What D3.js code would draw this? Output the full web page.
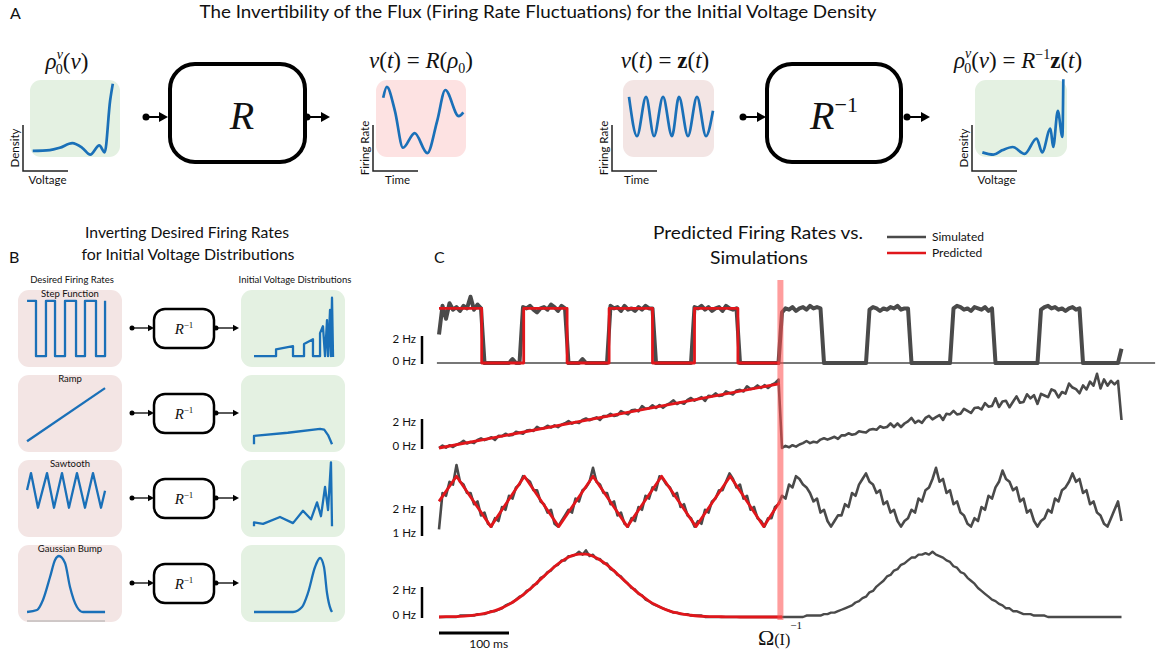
<!DOCTYPE html>
<html>
<head>
<meta charset="utf-8">
<script src="https://cdn.jsdelivr.net/npm/d3@7"></script>
<style>
  body { margin: 0; background: #fff; }
  text { font-family: Lato, "Open Sans", sans-serif; fill: #111; }
</style>
</head>
<body>
<div id="chart"></div>
<script>
(function () {

  // ---------- panel A sketches: [fraction of window, relative height] ----------
  var rhoStart = [[0.03,0.08],[0.22,0.09],[0.33,0.12],[0.47,0.18],[0.58,0.12],[0.67,0.03],[0.77,0.15],[0.83,0.06],[0.89,0.73],[0.92,0.95]]
  var rateOut = [[0.08,0.77],[0.12,0.91],[0.21,0.6],[0.3,0.12],[0.43,0.31],[0.57,0.05],[0.68,0.47],[0.77,0.87],[0.92,0.53],[0.97,0.58]]
  var rateTarget = [[0.066,0.78],[0.154,0.27],[0.253,0.78],[0.341,0.27],[0.44,0.78],[0.538,0.27],[0.615,0.78],[0.714,0.27],[0.813,0.78],[0.912,0.27],[0.989,0.6]]
  var rhoSolved = [[0.08,0.06],[0.2,0.03],[0.3,0.09],[0.41,0.13],[0.54,0.04],[0.67,0.24],[0.73,0.06],[0.82,0.37],[0.85,0.13],[0.9,0.6],[0.95,0.26],[0.96,1.01]]

  // ---------- panel B sketches ----------
  var bNames = ['Step Function', 'Ramp', 'Sawtooth', 'Gaussian Bump']
  var stepWave = [[0.087,0.86],[0.173,0.14],[0.269,0.86],[0.356,0.14],[0.452,0.86],[0.558,0.14],[0.644,0.86],[0.75,0.14],[0.837,0.86]]
  var stepSolved = [[0.125,0.14],[0.337,0.14],[0.337,0.23],[0.5,0.27],[0.5,0.14],[0.606,0.14],[0.606,0.3],[0.692,0.36],[0.692,0.14],[0.76,0.14],[0.76,0.44],[0.788,0.53],[0.808,0.14],[0.827,0.61],[0.837,0.14],[0.856,0.74],[0.865,0.14],[0.875,0.9],[0.885,0.13]]
  var rampWave = [[0.087,0.14],[0.837,0.83]]
  var rampSolved = [[0.125,0.10],[0.125,0.21],[0.45,0.25],[0.76,0.30],[0.8,0.29],[0.837,0.22],[0.86,0.15],[0.875,0.10]]
  var sawWave = [[0.087,0.61],[0.125,0.83],[0.192,0.38],[0.279,0.83],[0.346,0.38],[0.423,0.83],[0.49,0.38],[0.567,0.83],[0.644,0.38],[0.721,0.83],[0.798,0.38],[0.837,0.6]]
  var sawSolved = [[0.125,0.14],[0.125,0.19],[0.212,0.17],[0.375,0.26],[0.5,0.18],[0.596,0.34],[0.673,0.23],[0.731,0.45],[0.769,0.27],[0.808,0.65],[0.837,0.35],[0.865,0.97],[0.875,0.14]]
  var gaussWave = [[0.087,0.13],[0.183,0.156],[0.24,0.286],[0.308,0.584],[0.356,0.805],[0.394,0.857],[0.452,0.766],[0.5,0.455],[0.567,0.195],[0.625,0.13],[0.837,0.13]]
  var gaussSolved = [[0.125,0.13],[0.5,0.13],[0.587,0.195],[0.644,0.377],[0.712,0.714],[0.76,0.831],[0.798,0.714],[0.827,0.377],[0.865,0.156],[0.875,0.13]]

  // ---------- panel C: firing rates in Hz ----------
  var simDt = 5      // ms between simulated samples
  var simStep = [2.2,4.4,3.4,4.6,4.1,4.3,4.0,4.4,4.2,5.1,4.1,4.5,4.2,
    0,0,0,0,0,0,0,0,0.3,0,0,
    4.3,4.2,4.4,4.1,3.9,4.2,4.3,4.1,4.5,4.3,4.0,4.4,4.2,
    0,0,0,0,0.3,0,0,0,0,0,0,0,
    4.4,4.2,4.3,4.0,4.4,4.1,4.2,4.0,4.3,4.1,4.4,4.2,4.2,
    0,0,0,0,0,0,0,0,0,0,0,
    4.3,4.2,4.4,4.1,4.3,4.0,4.2,4.3,4.0,4.4,4.2,4.1,4.2,
    0,0,0,0,0,0,0,0,0,0,0,0,
    3.9,4.2,4.1,4.3,4.0,4.2,4.3,4.1,4.4,4.2,4.3,4.2,
    0,0,0,0,0,0,0,0,0,0,0,0,0,
    4.1,4.3,4.2,4.0,4.2,4.1,4.3,4.2,4.4,4.1,4.2,4.2,
    0,0,0,0,0,0,0,0,0,0,0,0,
    4.2,4.4,4.3,4.1,4.2,4.0,4.3,4.2,4.1,4.3,4.0,4.2,
    0,0,0,0,0,0,0,0,0,0,0,0,0,
    4.1,4.3,4.4,4.2,4.3,4.1,4.2,4.0,4.2,4.3,4.1,4.2,
    0,0,0,0,0,0,0,0,0,0,0,
    1.1]
  var simRamp = [0.00,0.17,0.03,0.20,0.07,0.24,0.34,0.51,0.32,0.43,
    0.35,0.58,0.69,0.56,0.66,0.77,0.58,0.87,0.85,1.02,
    0.89,0.93,1.16,1.09,1.02,1.24,1.29,1.22,1.51,1.37,
    1.42,1.59,1.46,1.62,1.49,1.66,1.77,1.93,1.74,1.85,
    1.78,2.00,2.11,1.98,2.09,2.19,2.00,2.29,2.28,2.44,
    2.29,2.34,2.63,2.51,2.40,2.69,2.73,2.62,2.99,2.80,
    2.84,3.05,2.86,3.07,2.87,3.08,3.21,3.41,3.14,3.27,
    3.16,3.44,3.57,3.38,3.51,3.63,3.36,3.73,3.70,3.90,
    3.71,3.76,4.04,3.93,3.82,4.11,4.15,4.04,4.41,4.22,
    4.26,4.47,4.28,4.49,4.29,4.50,4.63,4.89,
    0.00,0.15,0.05,0.20,0.10,0.25,0.35,0.50,0.35,0.45,
    0.40,0.60,0.70,0.60,0.70,0.80,0.65,0.90,0.90,1.05,
    0.95,1.00,1.20,1.15,1.10,1.30,1.35,1.30,1.55,1.45,
    1.50,1.75,1.50,1.75,1.50,1.75,1.90,2.15,1.80,1.95,
    1.80,2.15,2.30,2.05,2.20,2.35,2.00,2.45,2.40,2.65,
    2.40,2.45,2.80,2.65,2.50,2.85,2.90,2.75,3.20,2.95,
    3.00,3.55,2.93,3.32,3.37,2.91,3.30,3.69,3.23,3.28,
    3.84,3.55,3.77,3.15,3.87,3.75,3.63,4.19,4.07,3.61,
    4.00,3.88,4.60,4.32,4.20,3.91,4.47,4.18,4.74,4.45,
    5.30,4.25,4.90,4.45,4.80,4.55,4.80,2.00]
  var simSaw = [1.2,2.5,2.4,2.9,2.8,3.5,2.9,2.8,2.5,2.5,
    2.1,2.2,1.7,1.8,1.4,1.3,1.6,1.5,2.0,1.9,
    2.4,2.3,2.7,2.8,3.1,3.0,2.9,2.6,2.6,2.2,
    2.1,1.8,1.9,1.4,1.3,1.5,1.7,1.9,1.8,2.3,
    2.2,2.6,2.7,2.9,3.4,2.9,2.8,2.5,2.5,2.1,
    2.2,1.7,1.8,1.4,1.3,1.6,1.5,2.0,1.9,2.4,
    2.3,2.7,2.6,3.1,3.0,2.8,2.7,2.4,2.5,2.0,
    2.1,1.7,1.6,1.3,1.5,1.4,1.9,1.8,2.2,2.3,
    2.6,2.6,2.9,3.2,3.0,2.7,2.8,2.3,2.4,1.9,
    2.0,1.6,1.5,1.3,1.6,1.6,2.0,2.1,2.4,2.3,
    2.8,2.7,3.1,3.0,2.8,2.7,2.5,2.2,2.3,1.8,
    1.9,1.5,1.3,1.5,1.7,1.7,2.1,2.0,2.5,2.4,
    2.8,3.0,3.2,2.9,2.8,2.5,2.6,2.1,2.2,1.8,
    1.9,1.5,1.3,1.5,1.6,1.9,1.8,2.3,2.2,2.6,
    2.7,3.0,3.4,2.9,3.0,2.5,2.6,2.1,2.2,1.8,
    1.7,1.4,1.3,1.6,1.5,2.0,1.9,2.4,2.3,2.7,
    2.9,3.3,3.0,2.9,2.6,2.7,2.2,2.3,1.8,1.9,
    1.5,1.3,1.5,1.6,1.9,1.8,2.3,2.2,2.6,2.7,
    2.9,3.2,2.9,3.0,2.5,2.6,2.1,2.2,1.8,1.7,
    1.4,1.3,1.6,1.9,2.2,1.5]
  var simBump = [0.0,0.0,0.0,0.0,0.0,0.0,0.1,0.1,0.1,0.1,
    0.1,0.2,0.2,0.2,0.3,0.4,0.4,0.5,0.6,0.8,
    0.9,1.0,1.2,1.4,1.5,1.8,1.9,2.2,2.3,2.7,
    2.8,3.1,3.2,3.5,3.6,3.9,3.9,4.2,4.2,4.3,
    4.5,4.3,4.6,4.2,4.3,4.0,4.0,3.7,3.7,3.3,
    3.2,2.9,2.8,2.5,2.3,2.0,1.9,1.6,1.5,1.2,
    1.1,0.9,0.8,0.7,0.6,0.5,0.4,0.3,0.3,0.2,
    0.2,0.2,0.1,0.1,0.1,0.1,0.0,0.0,0.0,0.0,
    0,0,0,0,0,0,0,0,0,0,0,0,0,0,0,0,0,0,
    0.0,0.0,0.0,0.0,0.0,0.0,0.0,0.1,0.1,0.1,
    0.1,0.1,0.2,0.2,0.3,0.3,0.4,0.5,0.6,0.7,
    0.8,1.0,1.1,1.3,1.4,1.7,1.8,2.1,2.3,2.5,
    2.8,2.9,3.2,3.3,3.6,3.7,3.9,4.1,4.1,4.3,
    4.3,4.4,4.3,4.5,4.3,4.2,4.1,3.9,3.8,3.5,
    3.4,3.1,3.0,2.7,2.5,2.3,2.0,1.8,1.6,1.4,
    1.2,1.1,0.9,0.8,0.6,0.6,0.4,0.4,0.3,0.2,
    0.2,0.2,0.1,0.1,0.1,0.1,0.0,0.0,0.0,0.0,
    0,0,0,0,0,0,0,0,0,0,0,0,0,0,0,0,0,0]

  var predStepTimes = [0, 61, 121, 183, 243, 305, 365, 427, 487]
  var predStepRates = [4.2, 0, 4.2, 0, 4.2, 0, 4.2, 0, 0]
  var predRamp = [[0, 0], [487, 4.6]]
  var predSaw = [[0,2.2],[25,3.1],[74,1.3],[122,3.1],[171,1.3],[220,3.1],[269,1.3],[318,3.1],[367,1.3],[416,3.1],[464,1.3],[487,2.2]]
  var bumpDt = 10
  var predBump = [0.00,0.02,0.03,0.05,0.08,0.13,0.20,0.30,0.44,0.63,
    0.87,1.17,1.52,1.93,2.37,2.82,3.26,3.66,3.99,4.23,
    4.34,4.33,4.19,3.93,3.59,3.18,2.73,2.28,1.84,1.45,
    1.10,0.82,0.59,0.41,0.28,0.18,0.12,0.07,0.04,0.03,
    0.02,0.01,0.01,0.00,0.00,0.00,0.00,0.00,0.00,0.00]
  var omegaInv = 487   // ms
  var scaleMs = 100

  var blue = '#1a70b8', gray = '#4a4a4a', red = '#e0161b'
  var pinkA = '#fde2e2', pinkB = '#f3e5e4', green = '#e4f1e2'
  var serif = '"Liberation Serif", "DejaVu Serif", serif'

  var svg = d3.select('#chart').append('svg')
    .attr('width', 1174)
    .attr('height', 657)

  function mathLabel(x, y, size, parts, anchor) {
    var t = svg.append('text')
      .attr('x', x).attr('y', y)
      .attr('font-size', size)
      .attr('text-anchor', anchor || 'middle')
      .style('font-family', serif)
    parts.forEach(function (p) {
      var s = t.append('tspan').text(p.t)
      if (p.i) s.attr('font-style', 'italic')
      if (p.b) s.attr('font-weight', 'bold')
      if (p.dy) s.attr('dy', p.dy)
      if (p.dx) s.attr('dx', p.dx)
      if (p.s) s.attr('font-size', p.s)
    })
    return t
  }

  function label(x, y, txt, size, anchor, len) {
    var t = svg.append('text')
      .attr('x', x).attr('y', y)
      .attr('font-size', size)
      .attr('text-anchor', anchor || 'middle')
      .text(txt)
    if (len) t.attr('textLength', len).attr('lengthAdjust', 'spacingAndGlyphs')
    return t
  }

  function sketch(x0, y0, w, h, fill, pts, curve, sw) {
    svg.append('rect')
      .attr('x', x0).attr('y', y0)
      .attr('width', w).attr('height', h)
      .attr('rx', 11)
      .attr('fill', fill)
    var xs = d3.scaleLinear().domain([0, 1]).range([x0, x0 + w])
    var ys = d3.scaleLinear().domain([0, 1]).range([y0 + h, y0])
    svg.append('path')
      .datum(pts)
      .attr('d', d3.line().x(function (d) { return xs(d[0]) }).y(function (d) { return ys(d[1]) }).curve(curve))
      .attr('fill', 'none')
      .attr('stroke', blue)
      .attr('stroke-width', sw)
      .attr('stroke-linejoin', 'round')
  }

  function arrow(x1, x2, y, r, sw, head) {
    svg.append('line')
      .attr('x1', x1).attr('x2', x2 - head)
      .attr('y1', y).attr('y2', y)
      .attr('stroke', '#000').attr('stroke-width', sw)
    svg.append('circle').attr('cx', x1).attr('cy', y).attr('r', r).attr('fill', '#000')
    svg.append('path')
      .attr('d', 'M' + x2 + ',' + y + 'L' + (x2 - head) + ',' + (y - head * 0.55) + 'L' + (x2 - head) + ',' + (y + head * 0.55) + 'Z')
      .attr('fill', '#000')
  }

  function cornerAxis(x, yTop, yBot, xRight, xLab, yName) {
    svg.append('path')
      .attr('d', 'M' + x + ',' + yTop + 'V' + yBot + 'H' + xRight)
      .attr('fill', 'none').attr('stroke', '#222').attr('stroke-width', 1.5)
    label((x + xRight) / 2 + 2, yBot + 13, xLab, 11.5)
    label(0, 0, yName, 11.5)
      .attr('transform', 'translate(' + (x - 4) + ',' + ((yTop + yBot) / 2) + ') rotate(-90)')
  }

  function roundBox(x, y, w, h, r, sw) {
    svg.append('rect')
      .attr('x', x).attr('y', y).attr('width', w).attr('height', h)
      .attr('rx', r)
      .attr('fill', '#fff').attr('stroke', '#000').attr('stroke-width', sw)
  }

  var mono = d3.curveMonotoneX

  // ================= Panel A =================
  label(10, 19, 'A', 16, 'start')
  label(538, 18, 'The Invertibility of the Flux (Firing Rate Fluctuations) for the Initial Voltage Density', 17, 'middle', 677)

  sketch(30, 80, 90, 77, green, rhoStart, mono, 2.7)
  cornerAxis(23, 125, 171, 68, 'Voltage', 'Density')
  mathLabel(67, 69, 23, [{ t: 'ρ', i: 1 }, { t: 'v', i: 1, s: 14, dy: -10 }, { t: '0', s: 14, dx: -7, dy: 15 }, { t: '(', dy: -5 }, { t: 'v', i: 1 }, { t: ')' }])

  arrow(146, 168, 117, 3.5, 2, 9)
  roundBox(170, 64, 135, 98, 25, 4)
  mathLabel(242, 129, 40, [{ t: 'R', i: 1 }])
  arrow(307, 330, 117, 3.5, 2, 9)

  sketch(376, 80, 90, 77, pinkA, rateOut, mono, 2.7)
  cornerAxis(373, 125, 171, 418, 'Time', 'Firing Rate')
  mathLabel(421, 68, 23, [{ t: 'ν', i: 1 }, { t: '(' }, { t: 't', i: 1 }, { t: ') = ' }, { t: 'R', i: 1 }, { t: '(' }, { t: 'ρ', i: 1 }, { t: '0', s: 14, dy: 5 }, { t: ')', dy: -5 }])

  sketch(623, 80, 91, 77, pinkB, rateTarget, mono, 2.7)
  cornerAxis(612, 125, 171, 657, 'Time', 'Firing Rate')
  mathLabel(665, 68, 23, [{ t: 'ν', i: 1 }, { t: '(' }, { t: 't', i: 1 }, { t: ') = ' }, { t: 'z', b: 1 }, { t: '(' }, { t: 't', i: 1 }, { t: ')' }])

  arrow(743, 766, 117, 3.5, 2, 9)
  roundBox(767, 64, 134, 98, 25, 4)
  mathLabel(834, 129, 40, [{ t: 'R', i: 1 }, { t: '−1', s: 22, dy: -17 }])
  arrow(907, 930, 117, 3.5, 2, 9)

  sketch(975, 80, 92, 77, green, rhoSolved, mono, 2.7)
  cornerAxis(972, 125, 171, 1017, 'Voltage', 'Density')
  mathLabel(1018, 68, 23, [{ t: 'ρ', i: 1 }, { t: 'v', i: 1, s: 14, dy: -10 }, { t: '0', s: 14, dx: -7, dy: 15 }, { t: '(', dy: -5 }, { t: 'v', i: 1 }, { t: ') = ' }, { t: 'R', i: 1 }, { t: '−1', s: 14, dy: -9 }, { t: 'z', b: 1, dy: 9 }, { t: '(' }, { t: 't', i: 1 }, { t: ')' }])

  // ================= Panel B =================
  label(9, 263, 'B', 16, 'start')
  label(187, 238, 'Inverting Desired Firing Rates', 15, 'middle', 204)
  label(188, 260, 'for Initial Voltage Distributions', 15, 'middle', 213)
  label(72, 283, 'Desired Firing Rates', 9.5)
  label(295, 283, 'Initial Voltage Distributions', 9.5)

  var bIn = [stepWave, rampWave, sawWave, gaussWave]
  var bOut = [stepSolved, rampSolved, sawSolved, gaussSolved]
  var bInCurve = [d3.curveStepAfter, d3.curveLinear, d3.curveLinear, mono]
  var bOutCurve = [d3.curveLinear, d3.curveLinear, d3.curveLinear, mono]

  bNames.forEach(function (name, i) {
    var top = 290 + i * 85
    sketch(18, top, 104, 77, pinkB, bIn[i], bInCurve[i], 2.3)
    sketch(241, top, 104, 77, green, bOut[i], bOutCurve[i], 2.3)
    label(70, top + 7, name, 9.5)
    arrow(132, 154, top + 38, 2.5, 1.3, 6)
    roundBox(154, top + 19, 60, 39, 11, 2.5)
    mathLabel(184, top + 44, 15, [{ t: 'R', i: 1 }, { t: '−1', s: 9, dy: -6 }])
    arrow(216, 239, top + 38, 2.5, 1.3, 6)
  })
  svg.append('line')
    .attr('x1', 27).attr('x2', 105)
    .attr('y1', 621).attr('y2', 621)
    .attr('stroke', '#aaa').attr('stroke-width', 1)

  // ================= Panel C =================
  label(434, 263, 'C', 16, 'start')
  label(758, 239, 'Predicted Firing Rates vs.', 18, 'middle', 210)
  label(759, 264, 'Simulations', 18, 'middle', 98)

  // legend
  svg.append('line').attr('x1', 887).attr('x2', 926).attr('y1', 237).attr('y2', 237).attr('stroke', gray).attr('stroke-width', 2.5)
  svg.append('line').attr('x1', 887).attr('x2', 926).attr('y1', 253).attr('y2', 253).attr('stroke', red).attr('stroke-width', 2.5)
  label(932, 241, 'Simulated', 12, 'start')
  label(932, 257, 'Predicted', 12, 'start')

  var xTime = d3.scaleLinear().domain([0, 1000]).range([439, 1139])

  var panels = [
    { sim: simStep, y: d3.scaleLinear().domain([0, 2]).range([363, 337]), lo: 0, sw: 4 },
    { sim: simRamp, y: d3.scaleLinear().domain([0, 2]).range([448, 420]), lo: 0, sw: 2.6 },
    { sim: simSaw, y: d3.scaleLinear().domain([1, 2]).range([535, 507]), lo: 1, sw: 2.6 },
    { sim: simBump, y: d3.scaleLinear().domain([0, 2]).range([617, 588]), lo: 0, sw: 2.4 }
  ]

  // baseline of the step panel
  svg.append('line')
    .attr('x1', xTime(-3)).attr('x2', xTime(1023))
    .attr('y1', panels[0].y(0)).attr('y2', panels[0].y(0))
    .attr('stroke', gray).attr('stroke-width', 1.5)

  panels.forEach(function (p) {
    svg.append('path')
      .datum(p.sim)
      .attr('d', d3.line().x(function (d, i) { return xTime(i * simDt) }).y(function (d) { return p.y(d) }))
      .attr('fill', 'none')
      .attr('stroke', gray)
      .attr('stroke-width', p.sw)
      .attr('stroke-linejoin', 'round')

    // scale bar
    svg.append('line')
      .attr('x1', 422).attr('x2', 422)
      .attr('y1', p.y(2) - 1).attr('y2', p.y(p.lo) + 1)
      .attr('stroke', '#000').attr('stroke-width', 2.5)
    label(416, p.y(2) + 6, '2 Hz', 11.5, 'end')
    label(416, p.y(p.lo) + 2, p.lo + ' Hz', 11.5, 'end')
  })

  function predLine(pts, yScale, curve) {
    svg.append('path')
      .datum(pts)
      .attr('d', d3.line().x(function (d) { return xTime(d[0]) }).y(function (d) { return yScale(d[1]) }).curve(curve || d3.curveLinear))
      .attr('fill', 'none')
      .attr('stroke', red)
      .attr('stroke-width', 2.8)
      .attr('stroke-linejoin', 'round')
  }

  predLine(predStepTimes.map(function (t, i) { return [t, predStepRates[i]] }), panels[0].y, d3.curveStepAfter)
  predLine(predRamp, panels[1].y)
  predLine(predSaw, panels[2].y)
  predLine(predBump.map(function (v, i) { return [i * bumpDt, v] }), panels[3].y, mono)

  // period marker
  svg.append('rect')
    .attr('x', xTime(omegaInv) - 2.5).attr('width', 6)
    .attr('y', 280).attr('height', 340)
    .attr('fill', '#ff4d4d').attr('opacity', 0.55)

  mathLabel(xTime(omegaInv) - 22, 645, 22, [{ t: 'Ω' }, { t: '(I)', s: 16 }, { t: '−1', s: 11, dy: -16 }], 'start')

  // time scale bar
  svg.append('line')
    .attr('x1', xTime(0)).attr('x2', xTime(scaleMs))
    .attr('y1', 633).attr('y2', 633)
    .attr('stroke', '#000').attr('stroke-width', 3)
  label(xTime(scaleMs * 0.71), 648, scaleMs + ' ms', 12)

})()
</script>
</body>
</html>
